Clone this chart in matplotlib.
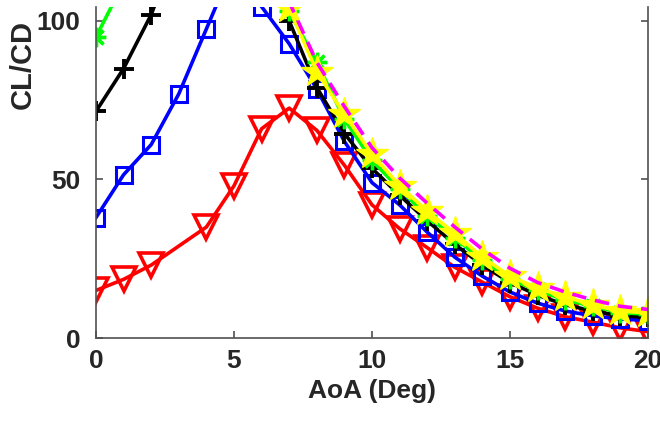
import matplotlib.pyplot as plt
import numpy as np

plt.rcParams['font.family'] = ['Liberation Sans', 'DejaVu Sans']
plt.rcParams['font.weight'] = 'bold'

# angle of attack (deg)
aoa = np.arange(0, 21)

# red series has no point at 3 deg
aoa_red = [0, 1, 2, 4, 5, 6, 7, 8, 9, 10, 11, 12, 13, 14, 15, 16, 17, 18, 19, 20]
cl_cd_red = [15, 18.5, 23, 35, 48, 66, 72.5, 65.5, 54.5, 42, 34.5, 28.5, 22.3, 17.6,
             13, 9.4, 6.7, 5, 3.2, 2]

cl_cd_blue = [38, 51.5, 61, 77, 97.5, 118, 104.5, 92.8, 78.5, 62, 49, 42, 33.4, 25.5,
              19.5, 14.5, 11, 8.5, 7, 6, 5.5]

cl_cd_black = [71.5, 85, 102, 125, 140, 150, 140, 100, 79, 64.5, 53.5, 45, 37, 29.5,
               23, 17.5, 13.5, 10.5, 8.5, 7, 6.5]

cl_cd_green = [95, 112, 130, 150, 165, 170, 160, 103, 87, 69, 56, 47, 38.5, 31.5,
               24.5, 18.5, 15, 12, 10, 8, 7.5]

cl_cd_yellow = [130, 150, 170, 185, 190, 190, 170, 104, 84, 70.5, 58, 48, 40, 33,
                25.5, 19.5, 15.7, 13, 10.4, 8.5, 7.9]

cl_cd_magenta = [135, 155, 175, 190, 195, 195, 175, 106, 87, 73, 60, 50.5, 42.5, 35,
                 28, 22, 17.5, 14.5, 12, 10, 9]

fig = plt.figure(figsize=(6.6, 4.41), dpi=100)
ax = fig.add_axes([96 / 660, 1 - 338 / 441, 552 / 660, 331 / 441])

lw = 2.6
ax.plot(aoa_red, cl_cd_red, color='red', lw=lw, marker='v', ms=17,
        mfc='none', mew=2.6)
ax.plot(aoa, cl_cd_blue, color='blue', lw=lw, marker='s', ms=11,
        mfc='none', mew=2.2)
ax.plot(aoa, cl_cd_black, color='black', lw=lw, marker='+', ms=15, mew=2.8)
ax.plot(aoa, cl_cd_green, color='#00ff00', lw=lw, marker=(8, 2, 0), ms=14, mew=2.4)
ax.plot(aoa, cl_cd_yellow, color='yellow', lw=lw, marker='*', ms=24,
        mec='yellow')
ax.plot(aoa, cl_cd_magenta, color='magenta', lw=lw, ls=(0, (4, 2.5)))

ax.set_xlim(0, 20)
ax.set_ylim(0, 104.4)
ax.set_xticks([0, 5, 10, 15, 20])
ax.set_yticks([0, 50, 100])

ax.spines['top'].set_visible(False)
for s in ['left', 'right', 'bottom']:
    ax.spines[s].set_color('#505050')
    ax.spines[s].set_linewidth(1.2)

ax.tick_params(direction='in', length=5, width=1.2, color='#505050',
               labelsize=19, labelcolor='#262626', right=True)
ax.tick_params(axis='x', pad=8)
ax.tick_params(axis='y', pad=11)
for lab in ax.get_xticklabels() + ax.get_yticklabels():
    lab.set_fontweight('bold')

ax.set_xlabel('AoA (Deg)', fontsize=19, fontweight='bold', color='#262626')
ax.xaxis.set_label_coords(0.5, -0.125)
ax.set_ylabel('CL/CD', fontsize=21, fontweight='bold', color='#262626')
ax.yaxis.set_label_coords(-0.107, 0.825)

fig.savefig('out.png', dpi=100)
